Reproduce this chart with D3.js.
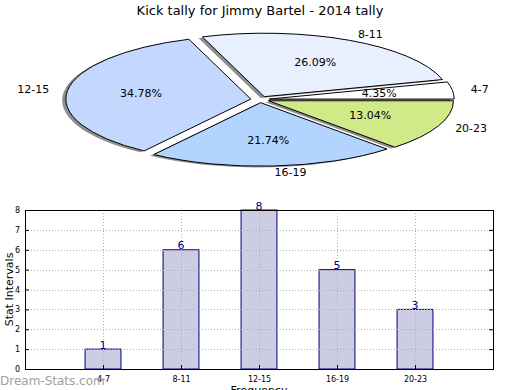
<html>
<head>
  <script src="https://cdn.jsdelivr.net/npm/d3@7"></script>
  <title>Kick tally</title>
  <style>
  body { margin: 0; background: #fff; }
  svg { font-family: "DejaVu Sans", sans-serif; }
  </style>
</head>
<body>
  <div id="chart"></div>
  <script>

  // data
  var categories = ["4-7", "8-11", "12-15", "16-19", "20-23"];
  var counts = [1, 6, 8, 5, 3];
  var sliceColors = ["#ffffff", "#e8f0ff", "#c4d8ff", "#b2d4ff", "#d0ea8a"];
  var yTicks = [0, 1, 2, 3, 4, 5, 6, 7, 8];

  var width = 520, height = 390;
  var svg = d3.select("#chart").append("svg").attr("width", width).attr("height", height);

  svg.append("text").attr("x", 260).attr("y", 15)
    .attr("text-anchor", "middle").attr("font-size", 13)
    .text("Kick tally for Jimmy Bartel - 2014 tally");

  // ---- pie (drawn on a unit circle, stretched into an ellipse) ----
  var cx = 260, cy = 99.5, rx = 185, ry = 63.5;
  var explode = 0.05;
  var total = d3.sum(counts);

  var pie = d3.pie().sort(null).startAngle(Math.PI / 2).endAngle(Math.PI / 2 - 2 * Math.PI);
  var arc = d3.arc().innerRadius(0).outerRadius(1);
  var slices = pie(counts);

  var pieG = svg.append("g");
  slices.forEach(function(s, i) {
    var mid = (s.startAngle + s.endAngle) / 2;
    var ux = Math.sin(mid), uy = -Math.cos(mid);
    var ox = cx + explode * rx * ux, oy = cy + explode * ry * uy;

    // shadow first, then the wedge
    pieG.append("path").attr("d", arc(s))
      .attr("transform", "translate(" + (ox - 0.02 * rx) + "," + (oy + 0.02 * ry) + ") scale(" + rx + "," + ry + ")")
      .attr("fill", "#333").attr("opacity", 0.55);
    pieG.append("path").attr("d", arc(s))
      .attr("transform", "translate(" + ox + "," + oy + ") scale(" + rx + "," + ry + ")")
      .attr("fill", sliceColors[i]).attr("stroke", "#000").attr("stroke-width", 1)
      .attr("vector-effect", "non-scaling-stroke");

    s.ox = ox; s.oy = oy; s.ux = ux; s.uy = uy;
  });

  slices.forEach(function(s, i) {
    svg.append("text")
      .attr("x", s.ox + 1.1 * rx * s.ux).attr("y", s.oy + 1.1 * ry * s.uy)
      .attr("text-anchor", s.ux > 0 ? "start" : "end")
      .attr("dominant-baseline", "central").attr("font-size", 11)
      .text(categories[i]);
    svg.append("text")
      .attr("x", s.ox + 0.6 * rx * s.ux).attr("y", s.oy + 0.6 * ry * s.uy)
      .attr("text-anchor", "middle")
      .attr("dominant-baseline", "central").attr("font-size", 11)
      .text((100 * counts[i] / total).toFixed(2) + "%");
  });

  // ---- bar chart ----
  var axL = 25, axR = 493, axT = 210, axB = 369;
  var x = d3.scaleLinear().domain([-1, categories.length]).range([axL, axR]);
  var y = d3.scaleLinear().domain([0, 8]).range([axB, axT]);
  var barW = 0.46 * (x(1) - x(0));

  svg.selectAll(".bar").data(counts).enter().append("rect")
    .attr("class", "bar")
    .attr("x", function(d, i) { return x(i) - barW / 2; })
    .attr("y", function(d) { return y(d); })
    .attr("width", barW)
    .attr("height", function(d) { return y(0) - y(d); })
    .attr("fill", "#ccccE2")
    .attr("stroke", "#000080").attr("stroke-width", 1);

  // grid sits on top of the bars in the original
  var grid = svg.append("g").attr("stroke", "#b0b0b0").attr("stroke-dasharray", "1,2");
  grid.selectAll(".h").data(yTicks.slice(1, -1)).enter().append("line")
    .attr("x1", axL).attr("x2", axR)
    .attr("y1", function(d) { return Math.round(y(d)) + 0.5; })
    .attr("y2", function(d) { return Math.round(y(d)) + 0.5; });
  grid.selectAll(".v").data(categories).enter().append("line")
    .attr("y1", axT).attr("y2", axB)
    .attr("x1", function(d, i) { return Math.round(x(i)) + 0.5; })
    .attr("x2", function(d, i) { return Math.round(x(i)) + 0.5; });

  svg.selectAll(".val").data(counts).enter().append("text")
    .attr("x", function(d, i) { return x(i); })
    .attr("y", function(d) { return y(d) - 0.5; })
    .attr("text-anchor", "middle").attr("font-size", 11).attr("fill", "#00008b")
    .text(function(d) { return d; });

  // axes: ticks pointing in, labels outside
  var yAxisL = d3.axisLeft(y).tickValues(yTicks).tickSizeInner(-4).tickSizeOuter(0).tickPadding(5);
  var yAxisR = d3.axisRight(y).tickValues(yTicks).tickSizeInner(-4).tickSizeOuter(0).tickFormat("");
  var xAxis = d3.axisBottom(x).tickValues(d3.range(categories.length))
    .tickFormat(function(d) { return categories[d]; }).tickSizeInner(-4).tickSizeOuter(0).tickPadding(7);

  svg.append("g").attr("transform", "translate(" + axL + ",0)").call(yAxisL);
  svg.append("g").attr("transform", "translate(" + axR + ",0)").call(yAxisR);
  svg.append("g").attr("transform", "translate(0," + axB + ")").call(xAxis);
  svg.selectAll(".tick text").attr("font-size", 8).attr("font-family", "DejaVu Sans");
  svg.selectAll(".domain").remove();

  svg.append("rect").attr("x", axL + 0.5).attr("y", axT + 0.5)
    .attr("width", axR - axL).attr("height", axB - axT)
    .attr("fill", "none").attr("stroke", "#000");

  svg.append("text").attr("transform", "translate(13," + ((axT + axB) / 2) + ") rotate(-90)")
    .attr("text-anchor", "middle").attr("font-size", 11).text("Stat Intervals");
  svg.append("text").attr("x", (axL + axR) / 2).attr("y", 394)
    .attr("text-anchor", "middle").attr("font-size", 11).text("Frequency");

  svg.append("text").attr("x", 0).attr("y", 385)
    .attr("font-size", 12).attr("fill", "#a0a0a0")
    .text("Dream-Stats.com");

  </script>
</body>
</html>
